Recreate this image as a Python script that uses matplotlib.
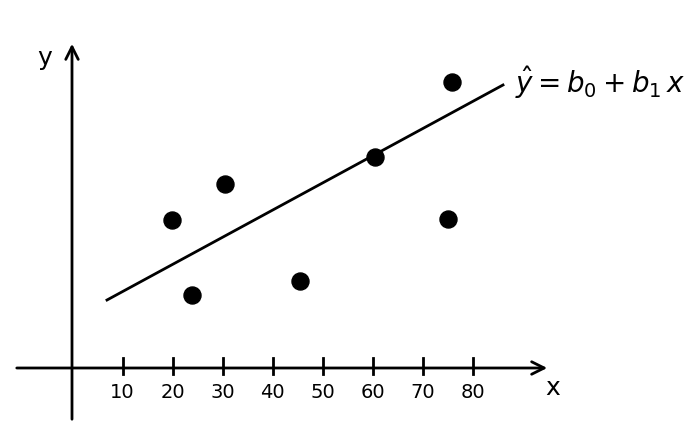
import matplotlib
matplotlib.use("Agg")
import matplotlib.pyplot as plt
import numpy as np

# data
x_ticks = [10, 20, 30, 40, 50, 60, 70, 80]
tick_labels = ["10", "20", "30", "40", "50", "60", "70", "80"]
pts_x = [19.9, 23.9, 30.5, 45.5, 60.5, 75.1, 75.9]
pts_y = [29.6, 14.6, 36.8, 17.4, 42.2, 29.8, 57.2]
line_x = [6.9, 86.1]
b0 = 9.85
b1 = 0.543

fig = plt.figure(figsize=(6.98, 4.32), dpi=100)
ax = fig.add_axes([0, 0, 1, 1])
ax.set_xlim(-14.5, 125.1)
ax.set_ylim(-12.8, 73.6)
ax.axis("off")

lw = 2.0
# axes with arrows
ax.annotate("", xy=(95.5, 0), xytext=(-11.7, 0),
            arrowprops=dict(arrowstyle="->,head_length=0.9,head_width=0.45", lw=lw, color="black"))
ax.annotate("", xy=(-0.1, 65.4), xytext=(-0.1, -10.8),
            arrowprops=dict(arrowstyle="->,head_length=0.9,head_width=0.45", lw=lw, color="black"))

# ticks
for t, lab in zip(x_ticks, tick_labels):
    ax.plot([t, t], [-1.2, 2.0], color="black", lw=lw)
    ax.text(t, -5.0, lab, ha="center", va="center", fontsize=14, color="black")

ax.text(96, -4.0, "x", ha="center", va="center", fontsize=18, color="black")
ax.text(-5.5, 62.0, "y", ha="center", va="center", fontsize=18, color="black")

# regression line
lx = np.array(line_x)
ax.plot(lx, b0 + b1 * lx, color="black", lw=lw)

# points
ax.scatter(pts_x, pts_y, s=150, color="black", zorder=3)

ax.text(88.5, 57.0, r"$\hat{y} = b_0 + b_1\,x$", ha="left", va="center", fontsize=20, color="black")

fig.savefig("out.png", dpi=100)
